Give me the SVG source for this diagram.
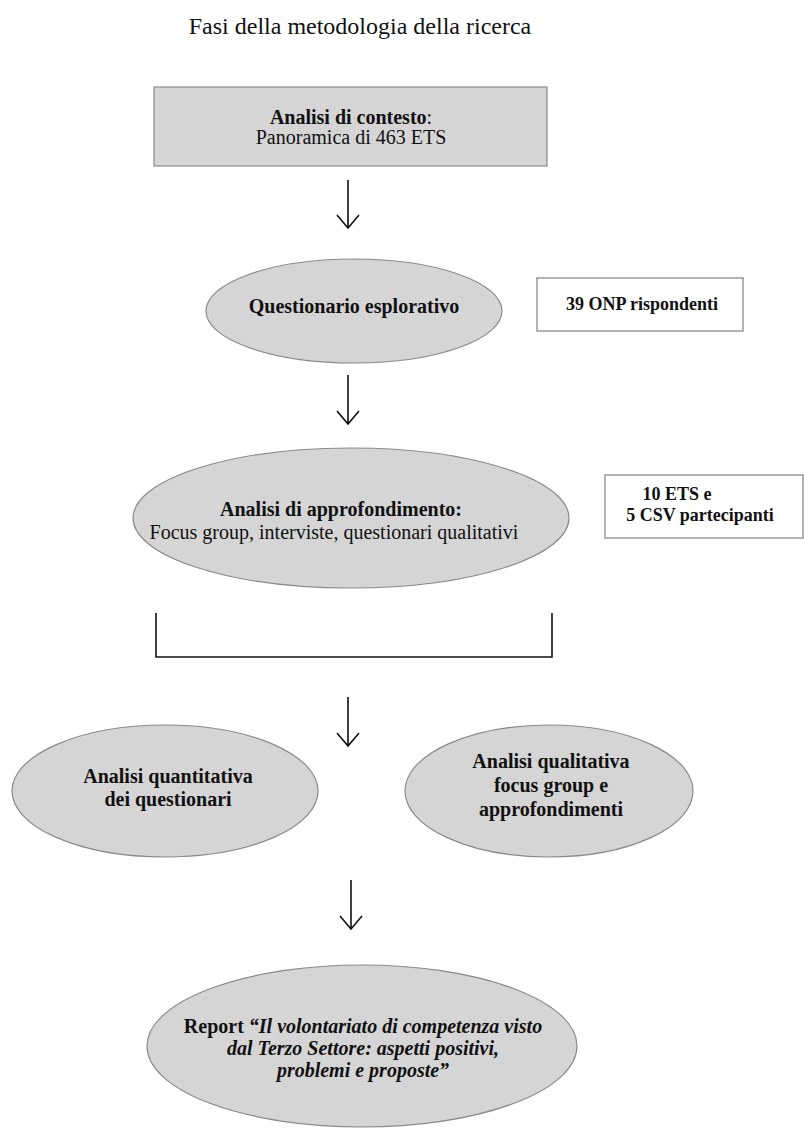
<svg xmlns="http://www.w3.org/2000/svg" width="804" height="1128" viewBox="0 0 804 1128">
<defs>
<style>
text{font-family:"Liberation Serif","Times New Roman",serif;fill:#111;text-anchor:middle}
.b{font-weight:bold}
.shape{fill:#d5d5d5;stroke:#8a8a8a;stroke-width:1.2}
.box{fill:#fff;stroke:#9a9a9a;stroke-width:1.5}
.arr{fill:none;stroke:#111;stroke-width:1.6}
</style>
</defs>
<rect width="804" height="1128" fill="#fff"/>
<text x="360" y="34" font-size="24">Fasi della metodologia della ricerca</text>

<g id="contesto">
<rect class="shape" x="154" y="87" width="393" height="79" fill="#d5d5d5" stroke="#777"/>
<text x="351" y="124" font-size="20"><tspan class="b">Analisi di contesto</tspan>:</text>
<text x="351" y="144" font-size="20">Panoramica di 463 ETS</text>
</g>

<g id="questionario">
<ellipse class="shape" cx="354" cy="311" rx="148" ry="52"/>
<text class="b" x="354" y="313" font-size="20">Questionario esplorativo</text>
</g>

<g id="onp">
<rect class="box" x="537" y="278" width="206" height="53"/>
<text class="b" x="642" y="310" font-size="18">39 ONP rispondenti</text>
</g>

<g id="approfondimento">
<ellipse class="shape" cx="351" cy="518" rx="218" ry="70"/>
<text class="b" x="341" y="516" font-size="20">Analisi di approfondimento:</text>
<text x="334" y="539" font-size="20">Focus group, interviste, questionari qualitativi</text>
</g>

<g id="partecipanti">
<rect class="box" x="605" y="475" width="198" height="63"/>
<text class="b" x="677" y="500" font-size="18">10 ETS e</text>
<text class="b" x="700" y="521" font-size="18">5 CSV partecipanti</text>
</g>

<g id="quantitativa">
<ellipse class="shape" cx="165" cy="791" rx="153" ry="66"/>
<text class="b" x="168" y="783" font-size="20">Analisi quantitativa</text>
<text class="b" x="168" y="806" font-size="20">dei questionari</text>
</g>

<g id="qualitativa">
<ellipse class="shape" cx="549" cy="791" rx="144" ry="66"/>
<text class="b" x="551" y="768" font-size="20">Analisi qualitativa</text>
<text class="b" x="551" y="792" font-size="20">focus group e</text>
<text class="b" x="551" y="816" font-size="20">approfondimenti</text>
</g>

<g id="report">
<ellipse class="shape" cx="362" cy="1046" rx="215" ry="81"/>
<text class="b" x="363" y="1033" font-size="20">Report <tspan font-style="italic">“Il volontariato di competenza visto</tspan></text>
<text class="b" x="363" y="1055" font-size="20" font-style="italic">dal Terzo Settore: aspetti positivi,</text>
<text class="b" x="363" y="1077" font-size="20" font-style="italic">problemi e proposte”</text>
</g>

<g id="connectors">
<path class="arr" d="M348,180 V228 M337,215 L348,228 L359,215"/>
<path class="arr" d="M348,375 V424 M337,411 L348,424 L359,411"/>
<path class="arr" d="M156,613 V657 H552 V613"/>
<path class="arr" d="M348,697 V746 M337,733 L348,746 L359,733"/>
<path class="arr" d="M351,880 V929 M340,916 L351,929 L362,916"/>
</g>
</svg>
